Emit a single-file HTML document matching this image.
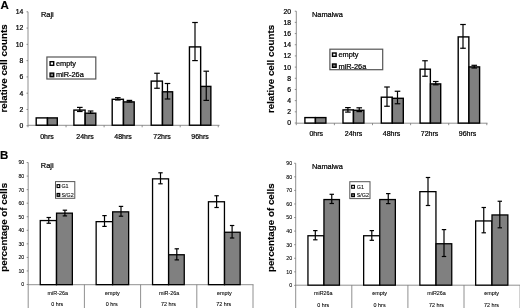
<!DOCTYPE html>
<html><head><meta charset="utf-8"><title>Figure</title>
<style>
html,body{margin:0;padding:0;background:#fff;}
body{width:520px;height:308px;overflow:hidden;}
svg{display:block;font-family:"Liberation Sans",sans-serif;}
</style></head><body>
<svg width="520" height="308" viewBox="0 0 520 308">
<defs><filter id="bl" x="-2%" y="-2%" width="104%" height="104%" color-interpolation-filters="sRGB"><feGaussianBlur stdDeviation="0.4"/></filter></defs>
<rect x="0" y="0" width="520" height="308" fill="#ffffff"/>
<g filter="url(#bl)">
<rect x="-10" y="-10" width="540" height="328" fill="#ffffff"/>
<line x1="28.00" y1="11.79" x2="28.00" y2="125.30" stroke="#747474" stroke-width="0.8"/>
<line x1="28.00" y1="125.30" x2="219.50" y2="125.30" stroke="#747474" stroke-width="0.8"/>
<line x1="26.50" y1="125.75" x2="28.00" y2="125.75" stroke="#747474" stroke-width="0.8"/>
<text x="23.40" y="128.15" font-size="6.8" text-anchor="end" font-weight="normal" fill="#000" stroke="#000" stroke-width="0.22" >0</text>
<line x1="26.50" y1="109.47" x2="28.00" y2="109.47" stroke="#747474" stroke-width="0.8"/>
<text x="23.40" y="111.87" font-size="6.8" text-anchor="end" font-weight="normal" fill="#000" stroke="#000" stroke-width="0.22" >2</text>
<line x1="26.50" y1="93.19" x2="28.00" y2="93.19" stroke="#747474" stroke-width="0.8"/>
<text x="23.40" y="95.59" font-size="6.8" text-anchor="end" font-weight="normal" fill="#000" stroke="#000" stroke-width="0.22" >4</text>
<line x1="26.50" y1="76.91" x2="28.00" y2="76.91" stroke="#747474" stroke-width="0.8"/>
<text x="23.40" y="79.31" font-size="6.8" text-anchor="end" font-weight="normal" fill="#000" stroke="#000" stroke-width="0.22" >6</text>
<line x1="26.50" y1="60.63" x2="28.00" y2="60.63" stroke="#747474" stroke-width="0.8"/>
<text x="23.40" y="63.03" font-size="6.8" text-anchor="end" font-weight="normal" fill="#000" stroke="#000" stroke-width="0.22" >8</text>
<line x1="26.50" y1="44.35" x2="28.00" y2="44.35" stroke="#747474" stroke-width="0.8"/>
<text x="23.40" y="46.75" font-size="6.8" text-anchor="end" font-weight="normal" fill="#000" stroke="#000" stroke-width="0.22" >10</text>
<line x1="26.50" y1="28.07" x2="28.00" y2="28.07" stroke="#747474" stroke-width="0.8"/>
<text x="23.40" y="30.47" font-size="6.8" text-anchor="end" font-weight="normal" fill="#000" stroke="#000" stroke-width="0.22" >12</text>
<line x1="26.50" y1="11.79" x2="28.00" y2="11.79" stroke="#747474" stroke-width="0.8"/>
<text x="23.40" y="14.19" font-size="6.8" text-anchor="end" font-weight="normal" fill="#000" stroke="#000" stroke-width="0.22" >14</text>
<line x1="28.00" y1="125.30" x2="28.00" y2="127.30" stroke="#747474" stroke-width="0.8"/>
<line x1="66.05" y1="125.30" x2="66.05" y2="127.30" stroke="#747474" stroke-width="0.8"/>
<line x1="104.10" y1="125.30" x2="104.10" y2="127.30" stroke="#747474" stroke-width="0.8"/>
<line x1="142.15" y1="125.30" x2="142.15" y2="127.30" stroke="#747474" stroke-width="0.8"/>
<line x1="180.20" y1="125.30" x2="180.20" y2="127.30" stroke="#747474" stroke-width="0.8"/>
<line x1="218.25" y1="125.30" x2="218.25" y2="127.30" stroke="#747474" stroke-width="0.8"/>
<rect x="36.20" y="117.90" width="11.20" height="7.30" fill="#fff" stroke="#000" stroke-width="1.4"/>
<rect x="47.50" y="117.90" width="9.80" height="7.30" fill="#808080" stroke="#000" stroke-width="1.4"/>
<rect x="73.90" y="110.10" width="11.20" height="15.10" fill="#fff" stroke="#000" stroke-width="1.4"/>
<rect x="85.20" y="113.20" width="10.60" height="12.00" fill="#808080" stroke="#000" stroke-width="1.4"/>
<rect x="112.20" y="99.30" width="11.20" height="25.90" fill="#fff" stroke="#000" stroke-width="1.4"/>
<rect x="123.50" y="101.90" width="10.70" height="23.30" fill="#808080" stroke="#000" stroke-width="1.4"/>
<rect x="151.20" y="81.10" width="11.20" height="44.10" fill="#fff" stroke="#000" stroke-width="1.4"/>
<rect x="162.50" y="91.80" width="10.10" height="33.40" fill="#808080" stroke="#000" stroke-width="1.4"/>
<rect x="189.45" y="46.90" width="11.20" height="78.30" fill="#fff" stroke="#000" stroke-width="1.4"/>
<rect x="200.75" y="86.40" width="10.10" height="38.80" fill="#808080" stroke="#000" stroke-width="1.4"/>
<line x1="79.80" y1="107.40" x2="79.80" y2="111.50" stroke="#000" stroke-width="1.2"/>
<line x1="77.00" y1="107.40" x2="82.60" y2="107.40" stroke="#000" stroke-width="1.2"/>
<line x1="77.00" y1="111.50" x2="82.60" y2="111.50" stroke="#000" stroke-width="1.2"/>
<line x1="90.60" y1="111.00" x2="90.60" y2="113.30" stroke="#000" stroke-width="1.2"/>
<line x1="87.80" y1="111.00" x2="93.40" y2="111.00" stroke="#000" stroke-width="1.2"/>
<line x1="87.80" y1="113.30" x2="93.40" y2="113.30" stroke="#000" stroke-width="1.2"/>
<line x1="117.80" y1="97.70" x2="117.80" y2="100.00" stroke="#000" stroke-width="1.2"/>
<line x1="115.00" y1="97.70" x2="120.60" y2="97.70" stroke="#000" stroke-width="1.2"/>
<line x1="115.00" y1="100.00" x2="120.60" y2="100.00" stroke="#000" stroke-width="1.2"/>
<line x1="129.40" y1="100.40" x2="129.40" y2="102.00" stroke="#000" stroke-width="1.2"/>
<line x1="126.60" y1="100.40" x2="132.20" y2="100.40" stroke="#000" stroke-width="1.2"/>
<line x1="126.60" y1="102.00" x2="132.20" y2="102.00" stroke="#000" stroke-width="1.2"/>
<line x1="157.00" y1="73.25" x2="157.00" y2="88.25" stroke="#000" stroke-width="1.2"/>
<line x1="154.20" y1="73.25" x2="159.80" y2="73.25" stroke="#000" stroke-width="1.2"/>
<line x1="154.20" y1="88.25" x2="159.80" y2="88.25" stroke="#000" stroke-width="1.2"/>
<line x1="167.50" y1="83.50" x2="167.50" y2="99.00" stroke="#000" stroke-width="1.2"/>
<line x1="164.70" y1="83.50" x2="170.30" y2="83.50" stroke="#000" stroke-width="1.2"/>
<line x1="164.70" y1="99.00" x2="170.30" y2="99.00" stroke="#000" stroke-width="1.2"/>
<line x1="195.00" y1="22.50" x2="195.00" y2="60.60" stroke="#000" stroke-width="1.2"/>
<line x1="192.20" y1="22.50" x2="197.80" y2="22.50" stroke="#000" stroke-width="1.2"/>
<line x1="192.20" y1="60.60" x2="197.80" y2="60.60" stroke="#000" stroke-width="1.2"/>
<line x1="206.25" y1="71.20" x2="206.25" y2="100.40" stroke="#000" stroke-width="1.2"/>
<line x1="203.45" y1="71.20" x2="209.05" y2="71.20" stroke="#000" stroke-width="1.2"/>
<line x1="203.45" y1="100.40" x2="209.05" y2="100.40" stroke="#000" stroke-width="1.2"/>
<text x="47.00" y="138.60" font-size="7" text-anchor="middle" font-weight="normal" fill="#000" stroke="#000" stroke-width="0.22" >0hrs</text>
<text x="85.00" y="138.60" font-size="7" text-anchor="middle" font-weight="normal" fill="#000" stroke="#000" stroke-width="0.22" >24hrs</text>
<text x="123.00" y="138.60" font-size="7" text-anchor="middle" font-weight="normal" fill="#000" stroke="#000" stroke-width="0.22" >48hrs</text>
<text x="162.00" y="138.60" font-size="7" text-anchor="middle" font-weight="normal" fill="#000" stroke="#000" stroke-width="0.22" >72hrs</text>
<text x="200.00" y="138.60" font-size="7" text-anchor="middle" font-weight="normal" fill="#000" stroke="#000" stroke-width="0.22" >96hrs</text>
<text x="41.00" y="16.80" font-size="7.4" text-anchor="start" font-weight="normal" fill="#000" stroke="#000" stroke-width="0.22" >Raji</text>
<rect x="46.90" y="57.00" width="48.90" height="22.00" fill="#fff" stroke="#555" stroke-width="1.2"/>
<rect x="50.10" y="61.70" width="3.60" height="3.60" fill="#fff" stroke="#000" stroke-width="1.4"/>
<text x="55.90" y="65.90" font-size="7.4" text-anchor="start" font-weight="normal" fill="#000" stroke="#000" stroke-width="0.22" >empty</text>
<rect x="50.10" y="73.10" width="3.60" height="3.60" fill="#808080" stroke="#000" stroke-width="1.4"/>
<text x="55.90" y="77.00" font-size="7.4" text-anchor="start" font-weight="normal" fill="#000" stroke="#000" stroke-width="0.22" >miR-26a</text>
<text x="0.50" y="8.60" font-size="11.5" text-anchor="start" font-weight="bold" fill="#000" stroke="#000" stroke-width="0.15" >A</text>
<text transform="translate(7.20,68.50) rotate(-90)" font-size="9.8" text-anchor="middle" font-weight="bold" fill="#000" stroke="#000" stroke-width="0.15">relative cell counts</text>
<line x1="296.30" y1="11.20" x2="296.30" y2="123.20" stroke="#747474" stroke-width="0.8"/>
<line x1="296.30" y1="123.20" x2="487.50" y2="123.20" stroke="#747474" stroke-width="0.8"/>
<line x1="294.80" y1="123.00" x2="296.30" y2="123.00" stroke="#747474" stroke-width="0.8"/>
<text x="291.10" y="125.40" font-size="6.8" text-anchor="end" font-weight="normal" fill="#000" stroke="#000" stroke-width="0.22" >0</text>
<line x1="294.80" y1="111.82" x2="296.30" y2="111.82" stroke="#747474" stroke-width="0.8"/>
<text x="291.10" y="114.22" font-size="6.8" text-anchor="end" font-weight="normal" fill="#000" stroke="#000" stroke-width="0.22" >2</text>
<line x1="294.80" y1="100.64" x2="296.30" y2="100.64" stroke="#747474" stroke-width="0.8"/>
<text x="291.10" y="103.04" font-size="6.8" text-anchor="end" font-weight="normal" fill="#000" stroke="#000" stroke-width="0.22" >4</text>
<line x1="294.80" y1="89.46" x2="296.30" y2="89.46" stroke="#747474" stroke-width="0.8"/>
<text x="291.10" y="91.86" font-size="6.8" text-anchor="end" font-weight="normal" fill="#000" stroke="#000" stroke-width="0.22" >6</text>
<line x1="294.80" y1="78.28" x2="296.30" y2="78.28" stroke="#747474" stroke-width="0.8"/>
<text x="291.10" y="80.68" font-size="6.8" text-anchor="end" font-weight="normal" fill="#000" stroke="#000" stroke-width="0.22" >8</text>
<line x1="294.80" y1="67.10" x2="296.30" y2="67.10" stroke="#747474" stroke-width="0.8"/>
<text x="291.10" y="69.50" font-size="6.8" text-anchor="end" font-weight="normal" fill="#000" stroke="#000" stroke-width="0.22" >10</text>
<line x1="294.80" y1="55.92" x2="296.30" y2="55.92" stroke="#747474" stroke-width="0.8"/>
<text x="291.10" y="58.32" font-size="6.8" text-anchor="end" font-weight="normal" fill="#000" stroke="#000" stroke-width="0.22" >12</text>
<line x1="294.80" y1="44.74" x2="296.30" y2="44.74" stroke="#747474" stroke-width="0.8"/>
<text x="291.10" y="47.14" font-size="6.8" text-anchor="end" font-weight="normal" fill="#000" stroke="#000" stroke-width="0.22" >14</text>
<line x1="294.80" y1="33.56" x2="296.30" y2="33.56" stroke="#747474" stroke-width="0.8"/>
<text x="291.10" y="35.96" font-size="6.8" text-anchor="end" font-weight="normal" fill="#000" stroke="#000" stroke-width="0.22" >16</text>
<line x1="294.80" y1="22.38" x2="296.30" y2="22.38" stroke="#747474" stroke-width="0.8"/>
<text x="291.10" y="24.78" font-size="6.8" text-anchor="end" font-weight="normal" fill="#000" stroke="#000" stroke-width="0.22" >18</text>
<line x1="294.80" y1="11.20" x2="296.30" y2="11.20" stroke="#747474" stroke-width="0.8"/>
<text x="291.10" y="13.60" font-size="6.8" text-anchor="end" font-weight="normal" fill="#000" stroke="#000" stroke-width="0.22" >20</text>
<line x1="296.30" y1="123.20" x2="296.30" y2="125.20" stroke="#747474" stroke-width="0.8"/>
<line x1="334.40" y1="123.20" x2="334.40" y2="125.20" stroke="#747474" stroke-width="0.8"/>
<line x1="372.50" y1="123.20" x2="372.50" y2="125.20" stroke="#747474" stroke-width="0.8"/>
<line x1="410.60" y1="123.20" x2="410.60" y2="125.20" stroke="#747474" stroke-width="0.8"/>
<line x1="448.70" y1="123.20" x2="448.70" y2="125.20" stroke="#747474" stroke-width="0.8"/>
<line x1="486.80" y1="123.20" x2="486.80" y2="125.20" stroke="#747474" stroke-width="0.8"/>
<rect x="304.90" y="117.60" width="10.45" height="5.50" fill="#fff" stroke="#000" stroke-width="1.4"/>
<rect x="315.45" y="117.60" width="10.45" height="5.50" fill="#808080" stroke="#000" stroke-width="1.4"/>
<rect x="343.00" y="109.90" width="10.40" height="13.20" fill="#fff" stroke="#000" stroke-width="1.4"/>
<rect x="353.50" y="110.30" width="10.40" height="12.80" fill="#808080" stroke="#000" stroke-width="1.4"/>
<rect x="381.30" y="97.20" width="10.95" height="25.90" fill="#fff" stroke="#000" stroke-width="1.4"/>
<rect x="392.35" y="98.30" width="10.95" height="24.80" fill="#808080" stroke="#000" stroke-width="1.4"/>
<rect x="420.10" y="69.20" width="10.25" height="53.90" fill="#fff" stroke="#000" stroke-width="1.4"/>
<rect x="430.45" y="83.90" width="10.25" height="39.20" fill="#808080" stroke="#000" stroke-width="1.4"/>
<rect x="458.20" y="36.90" width="10.65" height="86.20" fill="#fff" stroke="#000" stroke-width="1.4"/>
<rect x="468.95" y="66.90" width="10.65" height="56.20" fill="#808080" stroke="#000" stroke-width="1.4"/>
<line x1="347.90" y1="107.60" x2="347.90" y2="112.10" stroke="#000" stroke-width="1.2"/>
<line x1="345.10" y1="107.60" x2="350.70" y2="107.60" stroke="#000" stroke-width="1.2"/>
<line x1="345.10" y1="112.10" x2="350.70" y2="112.10" stroke="#000" stroke-width="1.2"/>
<line x1="359.25" y1="107.80" x2="359.25" y2="111.60" stroke="#000" stroke-width="1.2"/>
<line x1="356.45" y1="107.80" x2="362.05" y2="107.80" stroke="#000" stroke-width="1.2"/>
<line x1="356.45" y1="111.60" x2="362.05" y2="111.60" stroke="#000" stroke-width="1.2"/>
<line x1="387.00" y1="87.00" x2="387.00" y2="106.25" stroke="#000" stroke-width="1.2"/>
<line x1="384.20" y1="87.00" x2="389.80" y2="87.00" stroke="#000" stroke-width="1.2"/>
<line x1="384.20" y1="106.25" x2="389.80" y2="106.25" stroke="#000" stroke-width="1.2"/>
<line x1="397.50" y1="91.25" x2="397.50" y2="103.75" stroke="#000" stroke-width="1.2"/>
<line x1="394.70" y1="91.25" x2="400.30" y2="91.25" stroke="#000" stroke-width="1.2"/>
<line x1="394.70" y1="103.75" x2="400.30" y2="103.75" stroke="#000" stroke-width="1.2"/>
<line x1="425.00" y1="60.75" x2="425.00" y2="76.25" stroke="#000" stroke-width="1.2"/>
<line x1="422.20" y1="60.75" x2="427.80" y2="60.75" stroke="#000" stroke-width="1.2"/>
<line x1="422.20" y1="76.25" x2="427.80" y2="76.25" stroke="#000" stroke-width="1.2"/>
<line x1="435.75" y1="81.50" x2="435.75" y2="84.80" stroke="#000" stroke-width="1.2"/>
<line x1="432.95" y1="81.50" x2="438.55" y2="81.50" stroke="#000" stroke-width="1.2"/>
<line x1="432.95" y1="84.80" x2="438.55" y2="84.80" stroke="#000" stroke-width="1.2"/>
<line x1="463.00" y1="24.50" x2="463.00" y2="48.25" stroke="#000" stroke-width="1.2"/>
<line x1="460.20" y1="24.50" x2="465.80" y2="24.50" stroke="#000" stroke-width="1.2"/>
<line x1="460.20" y1="48.25" x2="465.80" y2="48.25" stroke="#000" stroke-width="1.2"/>
<line x1="474.25" y1="65.30" x2="474.25" y2="68.00" stroke="#000" stroke-width="1.2"/>
<line x1="471.45" y1="65.30" x2="477.05" y2="65.30" stroke="#000" stroke-width="1.2"/>
<line x1="471.45" y1="68.00" x2="477.05" y2="68.00" stroke="#000" stroke-width="1.2"/>
<text x="316.20" y="135.80" font-size="7" text-anchor="middle" font-weight="normal" fill="#000" stroke="#000" stroke-width="0.22" >0hrs</text>
<text x="353.50" y="135.80" font-size="7" text-anchor="middle" font-weight="normal" fill="#000" stroke="#000" stroke-width="0.22" >24hrs</text>
<text x="391.50" y="135.80" font-size="7" text-anchor="middle" font-weight="normal" fill="#000" stroke="#000" stroke-width="0.22" >48hrs</text>
<text x="429.50" y="135.80" font-size="7" text-anchor="middle" font-weight="normal" fill="#000" stroke="#000" stroke-width="0.22" >72hrs</text>
<text x="467.50" y="135.80" font-size="7" text-anchor="middle" font-weight="normal" fill="#000" stroke="#000" stroke-width="0.22" >96hrs</text>
<text x="312.00" y="17.20" font-size="7.4" text-anchor="start" font-weight="normal" fill="#000" stroke="#000" stroke-width="0.22" >Namalwa</text>
<rect x="329.90" y="49.20" width="52.80" height="20.50" fill="#fff" stroke="#555" stroke-width="1.2"/>
<rect x="332.50" y="53.00" width="3.60" height="3.30" fill="#fff" stroke="#000" stroke-width="1.4"/>
<text x="338.40" y="57.40" font-size="7.4" text-anchor="start" font-weight="normal" fill="#000" stroke="#000" stroke-width="0.22" >empty</text>
<rect x="332.50" y="64.00" width="3.60" height="3.30" fill="#808080" stroke="#000" stroke-width="1.4"/>
<text x="338.40" y="68.60" font-size="7.4" text-anchor="start" font-weight="normal" fill="#000" stroke="#000" stroke-width="0.22" >miR-26a</text>
<text transform="translate(273.70,69.00) rotate(-90)" font-size="9.8" text-anchor="middle" font-weight="bold" fill="#000" stroke="#000" stroke-width="0.15">relative cell counts</text>
<line x1="28.20" y1="162.55" x2="28.20" y2="308.00" stroke="#747474" stroke-width="0.8"/>
<line x1="28.20" y1="284.70" x2="253.50" y2="284.70" stroke="#747474" stroke-width="0.8"/>
<line x1="26.70" y1="284.50" x2="28.20" y2="284.50" stroke="#747474" stroke-width="0.8"/>
<text x="24.30" y="286.40" font-size="5.3" text-anchor="end" font-weight="normal" fill="#000" stroke="#000" stroke-width="0.08" >0</text>
<line x1="26.70" y1="270.95" x2="28.20" y2="270.95" stroke="#747474" stroke-width="0.8"/>
<text x="24.30" y="272.85" font-size="5.3" text-anchor="end" font-weight="normal" fill="#000" stroke="#000" stroke-width="0.08" >10</text>
<line x1="26.70" y1="257.40" x2="28.20" y2="257.40" stroke="#747474" stroke-width="0.8"/>
<text x="24.30" y="259.30" font-size="5.3" text-anchor="end" font-weight="normal" fill="#000" stroke="#000" stroke-width="0.08" >20</text>
<line x1="26.70" y1="243.85" x2="28.20" y2="243.85" stroke="#747474" stroke-width="0.8"/>
<text x="24.30" y="245.75" font-size="5.3" text-anchor="end" font-weight="normal" fill="#000" stroke="#000" stroke-width="0.08" >30</text>
<line x1="26.70" y1="230.30" x2="28.20" y2="230.30" stroke="#747474" stroke-width="0.8"/>
<text x="24.30" y="232.20" font-size="5.3" text-anchor="end" font-weight="normal" fill="#000" stroke="#000" stroke-width="0.08" >40</text>
<line x1="26.70" y1="216.75" x2="28.20" y2="216.75" stroke="#747474" stroke-width="0.8"/>
<text x="24.30" y="218.65" font-size="5.3" text-anchor="end" font-weight="normal" fill="#000" stroke="#000" stroke-width="0.08" >50</text>
<line x1="26.70" y1="203.20" x2="28.20" y2="203.20" stroke="#747474" stroke-width="0.8"/>
<text x="24.30" y="205.10" font-size="5.3" text-anchor="end" font-weight="normal" fill="#000" stroke="#000" stroke-width="0.08" >60</text>
<line x1="26.70" y1="189.65" x2="28.20" y2="189.65" stroke="#747474" stroke-width="0.8"/>
<text x="24.30" y="191.55" font-size="5.3" text-anchor="end" font-weight="normal" fill="#000" stroke="#000" stroke-width="0.08" >70</text>
<line x1="26.70" y1="176.10" x2="28.20" y2="176.10" stroke="#747474" stroke-width="0.8"/>
<text x="24.30" y="178.00" font-size="5.3" text-anchor="end" font-weight="normal" fill="#000" stroke="#000" stroke-width="0.08" >80</text>
<line x1="26.70" y1="162.55" x2="28.20" y2="162.55" stroke="#747474" stroke-width="0.8"/>
<text x="24.30" y="164.45" font-size="5.3" text-anchor="end" font-weight="normal" fill="#000" stroke="#000" stroke-width="0.08" >90</text>
<line x1="84.40" y1="284.70" x2="84.40" y2="308.00" stroke="#747474" stroke-width="0.8"/>
<line x1="140.60" y1="284.70" x2="140.60" y2="308.00" stroke="#747474" stroke-width="0.8"/>
<line x1="196.80" y1="284.70" x2="196.80" y2="308.00" stroke="#747474" stroke-width="0.8"/>
<line x1="253.00" y1="284.70" x2="253.00" y2="308.00" stroke="#747474" stroke-width="0.8"/>
<rect x="40.25" y="220.55" width="16.20" height="64.10" fill="#fff" stroke="#000" stroke-width="1.3"/>
<rect x="56.55" y="213.15" width="15.80" height="71.50" fill="#808080" stroke="#000" stroke-width="1.3"/>
<rect x="96.15" y="221.65" width="16.40" height="63.00" fill="#fff" stroke="#000" stroke-width="1.3"/>
<rect x="112.65" y="211.85" width="16.00" height="72.80" fill="#808080" stroke="#000" stroke-width="1.3"/>
<rect x="152.55" y="178.85" width="16.00" height="105.80" fill="#fff" stroke="#000" stroke-width="1.3"/>
<rect x="168.65" y="254.75" width="15.60" height="29.90" fill="#808080" stroke="#000" stroke-width="1.3"/>
<rect x="208.45" y="201.75" width="16.00" height="82.90" fill="#fff" stroke="#000" stroke-width="1.3"/>
<rect x="224.55" y="232.25" width="15.60" height="52.40" fill="#808080" stroke="#000" stroke-width="1.3"/>
<line x1="48.75" y1="217.50" x2="48.75" y2="223.25" stroke="#000" stroke-width="1.2"/>
<line x1="46.55" y1="217.50" x2="50.95" y2="217.50" stroke="#000" stroke-width="1.2"/>
<line x1="46.55" y1="223.25" x2="50.95" y2="223.25" stroke="#000" stroke-width="1.2"/>
<line x1="64.90" y1="210.20" x2="64.90" y2="215.90" stroke="#000" stroke-width="1.2"/>
<line x1="62.70" y1="210.20" x2="67.10" y2="210.20" stroke="#000" stroke-width="1.2"/>
<line x1="62.70" y1="215.90" x2="67.10" y2="215.90" stroke="#000" stroke-width="1.2"/>
<line x1="104.50" y1="215.60" x2="104.50" y2="226.40" stroke="#000" stroke-width="1.2"/>
<line x1="102.30" y1="215.60" x2="106.70" y2="215.60" stroke="#000" stroke-width="1.2"/>
<line x1="102.30" y1="226.40" x2="106.70" y2="226.40" stroke="#000" stroke-width="1.2"/>
<line x1="121.00" y1="206.40" x2="121.00" y2="216.20" stroke="#000" stroke-width="1.2"/>
<line x1="118.80" y1="206.40" x2="123.20" y2="206.40" stroke="#000" stroke-width="1.2"/>
<line x1="118.80" y1="216.20" x2="123.20" y2="216.20" stroke="#000" stroke-width="1.2"/>
<line x1="160.50" y1="172.80" x2="160.50" y2="183.80" stroke="#000" stroke-width="1.2"/>
<line x1="158.30" y1="172.80" x2="162.70" y2="172.80" stroke="#000" stroke-width="1.2"/>
<line x1="158.30" y1="183.80" x2="162.70" y2="183.80" stroke="#000" stroke-width="1.2"/>
<line x1="176.80" y1="248.80" x2="176.80" y2="259.90" stroke="#000" stroke-width="1.2"/>
<line x1="174.60" y1="248.80" x2="179.00" y2="248.80" stroke="#000" stroke-width="1.2"/>
<line x1="174.60" y1="259.90" x2="179.00" y2="259.90" stroke="#000" stroke-width="1.2"/>
<line x1="216.60" y1="195.75" x2="216.60" y2="207.50" stroke="#000" stroke-width="1.2"/>
<line x1="214.40" y1="195.75" x2="218.80" y2="195.75" stroke="#000" stroke-width="1.2"/>
<line x1="214.40" y1="207.50" x2="218.80" y2="207.50" stroke="#000" stroke-width="1.2"/>
<line x1="232.10" y1="225.50" x2="232.10" y2="238.00" stroke="#000" stroke-width="1.2"/>
<line x1="229.90" y1="225.50" x2="234.30" y2="225.50" stroke="#000" stroke-width="1.2"/>
<line x1="229.90" y1="238.00" x2="234.30" y2="238.00" stroke="#000" stroke-width="1.2"/>
<text x="57.80" y="294.60" font-size="5.4" text-anchor="middle" font-weight="normal" fill="#000" stroke="#000" stroke-width="0.08" >miR-26a</text>
<text x="57.20" y="305.80" font-size="5.4" text-anchor="middle" font-weight="normal" fill="#000" stroke="#000" stroke-width="0.08" >0 hrs</text>
<text x="112.30" y="294.60" font-size="5.4" text-anchor="middle" font-weight="normal" fill="#000" stroke="#000" stroke-width="0.08" >empty</text>
<text x="111.70" y="305.80" font-size="5.4" text-anchor="middle" font-weight="normal" fill="#000" stroke="#000" stroke-width="0.08" >0 hrs</text>
<text x="169.10" y="294.60" font-size="5.4" text-anchor="middle" font-weight="normal" fill="#000" stroke="#000" stroke-width="0.08" >miR-26a</text>
<text x="168.50" y="305.80" font-size="5.4" text-anchor="middle" font-weight="normal" fill="#000" stroke="#000" stroke-width="0.08" >72 hrs</text>
<text x="224.30" y="294.60" font-size="5.4" text-anchor="middle" font-weight="normal" fill="#000" stroke="#000" stroke-width="0.08" >empty</text>
<text x="223.70" y="305.80" font-size="5.4" text-anchor="middle" font-weight="normal" fill="#000" stroke="#000" stroke-width="0.08" >72 hrs</text>
<text x="40.80" y="168.10" font-size="7.4" text-anchor="start" font-weight="normal" fill="#000" stroke="#000" stroke-width="0.22" >Raji</text>
<rect x="55.50" y="181.60" width="19.30" height="16.70" fill="#fff" stroke="#555" stroke-width="1.0"/>
<rect x="57.08" y="184.67" width="2.65" height="2.85" fill="#fff" stroke="#000" stroke-width="1.15"/>
<text x="61.40" y="188.30" font-size="5.4" text-anchor="start" font-weight="normal" fill="#000" stroke="#000" stroke-width="0.08" >G1</text>
<rect x="57.08" y="193.47" width="2.65" height="2.85" fill="#808080" stroke="#000" stroke-width="1.15"/>
<text x="61.40" y="197.00" font-size="5.4" text-anchor="start" font-weight="normal" fill="#000" stroke="#000" stroke-width="0.08" >S/G2</text>
<text x="0.10" y="159.10" font-size="11.5" text-anchor="start" font-weight="bold" fill="#000" stroke="#000" stroke-width="0.15" >B</text>
<text transform="translate(7.20,227.30) rotate(-90)" font-size="9.8" text-anchor="middle" font-weight="bold" fill="#000" stroke="#000" stroke-width="0.15">percentage of cells</text>
<line x1="295.70" y1="163.27" x2="295.70" y2="308.00" stroke="#747474" stroke-width="0.8"/>
<line x1="295.70" y1="285.20" x2="520.00" y2="285.20" stroke="#747474" stroke-width="0.8"/>
<line x1="294.20" y1="285.40" x2="295.70" y2="285.40" stroke="#747474" stroke-width="0.8"/>
<text x="292.10" y="287.30" font-size="5.3" text-anchor="end" font-weight="normal" fill="#000" stroke="#000" stroke-width="0.08" >0</text>
<line x1="294.20" y1="271.83" x2="295.70" y2="271.83" stroke="#747474" stroke-width="0.8"/>
<text x="292.10" y="273.73" font-size="5.3" text-anchor="end" font-weight="normal" fill="#000" stroke="#000" stroke-width="0.08" >10</text>
<line x1="294.20" y1="258.26" x2="295.70" y2="258.26" stroke="#747474" stroke-width="0.8"/>
<text x="292.10" y="260.16" font-size="5.3" text-anchor="end" font-weight="normal" fill="#000" stroke="#000" stroke-width="0.08" >20</text>
<line x1="294.20" y1="244.69" x2="295.70" y2="244.69" stroke="#747474" stroke-width="0.8"/>
<text x="292.10" y="246.59" font-size="5.3" text-anchor="end" font-weight="normal" fill="#000" stroke="#000" stroke-width="0.08" >30</text>
<line x1="294.20" y1="231.12" x2="295.70" y2="231.12" stroke="#747474" stroke-width="0.8"/>
<text x="292.10" y="233.02" font-size="5.3" text-anchor="end" font-weight="normal" fill="#000" stroke="#000" stroke-width="0.08" >40</text>
<line x1="294.20" y1="217.55" x2="295.70" y2="217.55" stroke="#747474" stroke-width="0.8"/>
<text x="292.10" y="219.45" font-size="5.3" text-anchor="end" font-weight="normal" fill="#000" stroke="#000" stroke-width="0.08" >50</text>
<line x1="294.20" y1="203.98" x2="295.70" y2="203.98" stroke="#747474" stroke-width="0.8"/>
<text x="292.10" y="205.88" font-size="5.3" text-anchor="end" font-weight="normal" fill="#000" stroke="#000" stroke-width="0.08" >60</text>
<line x1="294.20" y1="190.41" x2="295.70" y2="190.41" stroke="#747474" stroke-width="0.8"/>
<text x="292.10" y="192.31" font-size="5.3" text-anchor="end" font-weight="normal" fill="#000" stroke="#000" stroke-width="0.08" >70</text>
<line x1="294.20" y1="176.84" x2="295.70" y2="176.84" stroke="#747474" stroke-width="0.8"/>
<text x="292.10" y="178.74" font-size="5.3" text-anchor="end" font-weight="normal" fill="#000" stroke="#000" stroke-width="0.08" >80</text>
<line x1="294.20" y1="163.27" x2="295.70" y2="163.27" stroke="#747474" stroke-width="0.8"/>
<text x="292.10" y="165.17" font-size="5.3" text-anchor="end" font-weight="normal" fill="#000" stroke="#000" stroke-width="0.08" >90</text>
<line x1="351.80" y1="285.20" x2="351.80" y2="308.00" stroke="#747474" stroke-width="0.8"/>
<line x1="407.90" y1="285.20" x2="407.90" y2="308.00" stroke="#747474" stroke-width="0.8"/>
<line x1="464.00" y1="285.20" x2="464.00" y2="308.00" stroke="#747474" stroke-width="0.8"/>
<line x1="520.10" y1="285.20" x2="520.10" y2="308.00" stroke="#747474" stroke-width="0.8"/>
<rect x="307.95" y="235.75" width="15.90" height="49.40" fill="#fff" stroke="#000" stroke-width="1.3"/>
<rect x="323.95" y="199.55" width="15.50" height="85.60" fill="#808080" stroke="#000" stroke-width="1.3"/>
<rect x="363.65" y="235.75" width="16.00" height="49.40" fill="#fff" stroke="#000" stroke-width="1.3"/>
<rect x="379.75" y="199.55" width="15.60" height="85.60" fill="#808080" stroke="#000" stroke-width="1.3"/>
<rect x="419.85" y="191.65" width="16.10" height="93.50" fill="#fff" stroke="#000" stroke-width="1.3"/>
<rect x="436.05" y="243.75" width="15.70" height="41.40" fill="#808080" stroke="#000" stroke-width="1.3"/>
<rect x="475.65" y="220.95" width="16.25" height="64.20" fill="#fff" stroke="#000" stroke-width="1.3"/>
<rect x="492.00" y="214.95" width="15.85" height="70.20" fill="#808080" stroke="#000" stroke-width="1.3"/>
<line x1="315.30" y1="230.60" x2="315.30" y2="239.80" stroke="#000" stroke-width="1.2"/>
<line x1="313.10" y1="230.60" x2="317.50" y2="230.60" stroke="#000" stroke-width="1.2"/>
<line x1="313.10" y1="239.80" x2="317.50" y2="239.80" stroke="#000" stroke-width="1.2"/>
<line x1="331.75" y1="194.30" x2="331.75" y2="203.50" stroke="#000" stroke-width="1.2"/>
<line x1="329.55" y1="194.30" x2="333.95" y2="194.30" stroke="#000" stroke-width="1.2"/>
<line x1="329.55" y1="203.50" x2="333.95" y2="203.50" stroke="#000" stroke-width="1.2"/>
<line x1="371.80" y1="230.60" x2="371.80" y2="240.30" stroke="#000" stroke-width="1.2"/>
<line x1="369.60" y1="230.60" x2="374.00" y2="230.60" stroke="#000" stroke-width="1.2"/>
<line x1="369.60" y1="240.30" x2="374.00" y2="240.30" stroke="#000" stroke-width="1.2"/>
<line x1="388.25" y1="193.60" x2="388.25" y2="203.60" stroke="#000" stroke-width="1.2"/>
<line x1="386.05" y1="193.60" x2="390.45" y2="193.60" stroke="#000" stroke-width="1.2"/>
<line x1="386.05" y1="203.60" x2="390.45" y2="203.60" stroke="#000" stroke-width="1.2"/>
<line x1="428.00" y1="177.50" x2="428.00" y2="205.50" stroke="#000" stroke-width="1.2"/>
<line x1="425.80" y1="177.50" x2="430.20" y2="177.50" stroke="#000" stroke-width="1.2"/>
<line x1="425.80" y1="205.50" x2="430.20" y2="205.50" stroke="#000" stroke-width="1.2"/>
<line x1="444.00" y1="229.60" x2="444.00" y2="256.50" stroke="#000" stroke-width="1.2"/>
<line x1="441.80" y1="229.60" x2="446.20" y2="229.60" stroke="#000" stroke-width="1.2"/>
<line x1="441.80" y1="256.50" x2="446.20" y2="256.50" stroke="#000" stroke-width="1.2"/>
<line x1="483.75" y1="207.50" x2="483.75" y2="232.80" stroke="#000" stroke-width="1.2"/>
<line x1="481.55" y1="207.50" x2="485.95" y2="207.50" stroke="#000" stroke-width="1.2"/>
<line x1="481.55" y1="232.80" x2="485.95" y2="232.80" stroke="#000" stroke-width="1.2"/>
<line x1="499.80" y1="201.25" x2="499.80" y2="227.80" stroke="#000" stroke-width="1.2"/>
<line x1="497.60" y1="201.25" x2="502.00" y2="201.25" stroke="#000" stroke-width="1.2"/>
<line x1="497.60" y1="227.80" x2="502.00" y2="227.80" stroke="#000" stroke-width="1.2"/>
<text x="323.30" y="295.20" font-size="5.4" text-anchor="middle" font-weight="normal" fill="#000" stroke="#000" stroke-width="0.08" >miR26a</text>
<text x="323.30" y="306.80" font-size="5.4" text-anchor="middle" font-weight="normal" fill="#000" stroke="#000" stroke-width="0.08" >0 hrs</text>
<text x="379.60" y="295.20" font-size="5.4" text-anchor="middle" font-weight="normal" fill="#000" stroke="#000" stroke-width="0.08" >empty</text>
<text x="379.60" y="306.80" font-size="5.4" text-anchor="middle" font-weight="normal" fill="#000" stroke="#000" stroke-width="0.08" >0 hrs</text>
<text x="436.50" y="295.20" font-size="5.4" text-anchor="middle" font-weight="normal" fill="#000" stroke="#000" stroke-width="0.08" >miR26a</text>
<text x="436.50" y="306.80" font-size="5.4" text-anchor="middle" font-weight="normal" fill="#000" stroke="#000" stroke-width="0.08" >72 hrs</text>
<text x="491.50" y="295.20" font-size="5.4" text-anchor="middle" font-weight="normal" fill="#000" stroke="#000" stroke-width="0.08" >empty</text>
<text x="491.50" y="306.80" font-size="5.4" text-anchor="middle" font-weight="normal" fill="#000" stroke="#000" stroke-width="0.08" >72 hrs</text>
<text x="312.00" y="168.70" font-size="7.4" text-anchor="start" font-weight="normal" fill="#000" stroke="#000" stroke-width="0.22" >Namalwa</text>
<rect x="349.80" y="181.70" width="20.20" height="16.90" fill="#fff" stroke="#555" stroke-width="1.0"/>
<rect x="351.68" y="185.38" width="2.75" height="2.85" fill="#fff" stroke="#000" stroke-width="1.15"/>
<text x="356.70" y="188.90" font-size="5.4" text-anchor="start" font-weight="normal" fill="#000" stroke="#000" stroke-width="0.08" >G1</text>
<rect x="351.68" y="193.77" width="2.75" height="2.85" fill="#808080" stroke="#000" stroke-width="1.15"/>
<text x="356.70" y="197.40" font-size="5.4" text-anchor="start" font-weight="normal" fill="#000" stroke="#000" stroke-width="0.08" >S/G2</text>
<text transform="translate(273.70,227.70) rotate(-90)" font-size="9.8" text-anchor="middle" font-weight="bold" fill="#000" stroke="#000" stroke-width="0.15">percentage of cells</text>
</g>
</svg>
</body></html>
